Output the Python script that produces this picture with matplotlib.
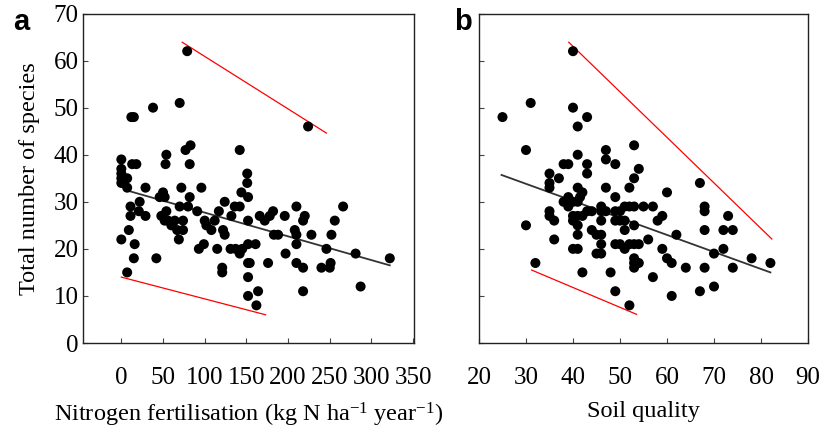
import numpy as np
import matplotlib.pyplot as plt

# Panel a: nitrogen fertilisation (kg N/ha/yr) vs total species
n_fert = [0, 0, 0, 0, 0, 7, 7, 13, 18, 12, 15, 38, 70, 79, 224,
          29, 11, 11, 22, 21, 29, 9, 0, 16, 15, 42, 7,
          54, 53, 77, 83, 82, 50, 46, 52, 72, 82, 96,
          54, 48, 52, 56, 60, 64, 67, 74, 74, 70, 80, 69,
          91, 100, 102, 108, 112, 117, 124, 93, 99, 115, 121, 121, 122, 124,
          131, 137, 142, 145, 132, 136, 142, 142, 151, 151, 144, 152, 152, 152, 152, 152, 152,
          166, 172, 178, 182, 196, 210, 220, 218, 266, 256, 183, 188, 208, 210, 228, 252,
          161, 210, 246, 281, 322, 197, 154, 176, 210, 218, 240, 250, 251, 287, 218, 164, 162]
species_a = [39, 37, 36, 35, 34, 35, 33, 38, 38, 48, 48, 50, 51, 62, 46,
             33, 29, 27, 30, 28, 27, 24, 22, 21, 18, 18, 15,
             40, 38, 41, 42, 38, 32, 31, 31, 33, 31, 33,
             28, 27, 26, 26, 25, 26, 24, 26, 24, 29, 29, 22,
             28, 26, 25, 24, 26, 28, 30, 20, 21, 20, 16, 15, 24, 23,
             20, 20, 19, 20, 27, 29, 29, 41, 36, 34, 32, 31, 26, 21, 17, 14, 10,
             27, 26, 27, 28, 27, 29, 27, 26, 29, 26, 23, 23, 24, 23, 23, 23,
             21, 21, 20, 19, 18, 19, 17, 17, 17, 16, 16, 16, 17, 12, 11, 11, 8]

# Panel b: soil quality vs total species
soil = [25, 31, 30, 40, 43, 41, 41, 40, 47, 47, 49, 53, 54, 53, 52, 47, 49,
        38, 39, 43, 43, 35, 37, 35, 35, 41, 42, 41.5, 39, 38, 39, 40, 41,
        35, 35, 36, 30, 40, 41, 42, 43, 44, 40, 41,
        46, 46, 46, 47, 49, 50, 51, 52, 53, 49, 50, 51, 55, 53, 51,
        44, 45, 46, 41, 36, 40, 41, 45, 46, 46, 49, 50, 51, 52, 53, 53, 53, 53, 54,
        32, 42, 48, 49, 52,
        67, 60, 57, 68, 68, 73, 59, 58, 68, 72, 74, 62, 56, 54, 59, 72, 70, 78, 82,
        60, 61, 64, 68, 74, 57, 67, 70, 61]
species_b = [48, 51, 41, 50, 48, 46, 40, 62, 41, 39, 38, 42, 37, 35, 33, 33, 31,
             38, 38, 38, 36, 36, 35, 34, 33, 33, 32, 31, 31, 30, 29, 30, 30,
             28, 27, 26, 25, 27, 27, 27, 28, 28, 26, 25,
             29, 28, 26, 28, 28, 28, 29, 29, 29, 26, 26, 26, 29, 25, 24,
             24, 23, 23, 23, 22, 20, 20, 19, 19, 21, 21, 21, 20, 21, 21, 18, 17, 16, 17,
             17, 15, 15, 11, 8,
             34, 32, 29, 29, 28, 27, 27, 26, 24, 24, 24, 23, 22, 21, 20, 20, 19, 18, 17,
             18, 17, 16, 16, 16, 14, 11, 12, 10]

# Fitted lines: (x_start, x_end, y_start, y_end)
fit_a = (5, 322, 32.5, 16.5)
upper_a = (73, 246, 63.9, 44.6)
lower_a = (0, 173, 14.0, 6.0)
fit_b = (24.8, 82, 35.7, 15.0)
upper_b = (39.1, 82.3, 63.9, 22.1)
lower_b = (31.2, 53.5, 15.5, 6.1)

SERIF = "Liberation Serif"
plt.rcParams["font.family"] = SERIF
plt.rcParams["mathtext.fontset"] = "custom"
plt.rcParams["mathtext.rm"] = SERIF
plt.rcParams["mathtext.it"] = SERIF + ":italic"
plt.rcParams["mathtext.bf"] = SERIF + ":bold"

fig = plt.figure(figsize=(8.24, 4.32), dpi=100)
ax_a = fig.add_axes([0.1007, 0.206, 0.4017, 0.7627])
ax_b = fig.add_axes([0.5813, 0.206, 0.3993, 0.7627])


def draw_line(ax, seg, color, lw):
    x0, x1, y0, y1 = seg
    ax.plot([x0, x1], [y0, y1], color=color, lw=lw, zorder=2)


for ax, xs, ys, fit, up, lo in [(ax_a, n_fert, species_a, fit_a, upper_a, lower_a),
                                (ax_b, soil, species_b, fit_b, upper_b, lower_b)]:
    ax.scatter(xs, ys, s=52, color="black", edgecolors="none", zorder=3)
    draw_line(ax, fit, "#333333", 1.3)
    draw_line(ax, up, "red", 0.9)
    draw_line(ax, lo, "red", 0.9)
    ax.set_ylim(0, 70)
    ax.set_yticks(range(0, 71, 10))
    ax.tick_params(direction="in", length=3.5, width=0.8, labelsize=18,
                   color="#444444")
    ax.tick_params(axis="x", pad=17)
    ax.tick_params(axis="y", pad=3)
    for sp in ax.spines.values():
        sp.set_linewidth(1.0)
        sp.set_color("#222222")

ax_a.set_xlim(-46, 351)
ax_a.set_xticks(range(0, 351, 50))
ax_a.set_ylabel("Total number of species", fontsize=17.5, labelpad=10)
ax_a.set_xlabel(r"Nitrogen fertilisation (kg N ha$^{-1}$ year$^{-1}$)",
                fontsize=17.5, labelpad=9)

ax_b.set_xlim(20.2, 90)
ax_b.set_xticks(range(20, 91, 10))
ax_b.tick_params(axis="y", labelleft=False)
ax_b.set_xlabel("Soil quality", fontsize=17.5, labelpad=9)

for ax in (ax_a, ax_b):
    for lab in ax.get_xticklabels() + ax.get_yticklabels():
        lab.set_family(SERIF)

fig.text(0.016, 0.95, "a", fontsize=21, fontweight="bold",
         family="Liberation Sans", va="center")
fig.text(0.551, 0.95, "b", fontsize=21, fontweight="bold",
         family="Liberation Sans", va="center")

fig.savefig("out.png", dpi=100)
